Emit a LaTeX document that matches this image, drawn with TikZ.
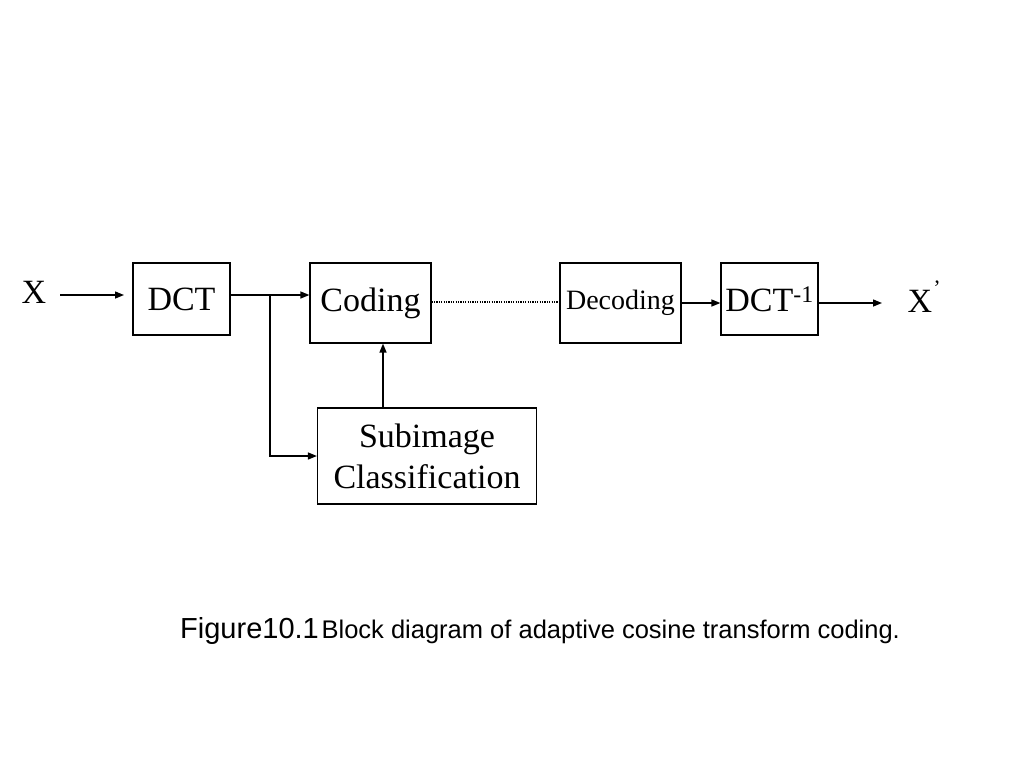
\documentclass[tikz,border=0pt]{standalone}
\usepackage{fontspec}
\setmainfont{Liberation Serif}
\newfontfamily\capfont{Liberation Sans}
\usetikzlibrary{arrows.meta}
\begin{document}
\begin{tikzpicture}[x=1pt,y=-1pt,
  blk/.style={draw, line width=1.2pt, inner sep=0pt, align=center, font=\fontsize{34}{41}\selectfont},
  arr/.style={line width=1.4pt, -{Triangle[length=9pt,width=7pt]}},
  lbl/.style={inner sep=0pt, font=\fontsize{34}{41}\selectfont}]
\useasboundingbox[fill=white] (0,0) rectangle (1024,768);
\node[blk, minimum width=97pt, minimum height=72pt] (dct) at (181.5,299) {DCT};
\node[blk, minimum width=121pt, minimum height=80pt] (coding) at (370.5,303) {Coding};
\node[blk, minimum width=121pt, minimum height=80pt, font=\fontsize{28}{32}\selectfont] (decoding) at (620.5,303) {Decoding};
\node[blk, minimum width=97pt, minimum height=72pt] (idct) at (769.5,299) {DCT\textsuperscript{-1}};
\node[blk, minimum width=219pt, minimum height=96pt] (sub) at (427,456) {Subimage\\Classification};
\node[lbl] (x) at (34,292) {X};
\node[lbl] (xp) at (920,301) {X};
\node[inner sep=0pt, font=\fontsize{22}{24}\selectfont] (prime) at (937,288) {’};
\coordinate (xin) at (60,295);
\coordinate (xend) at (124,295);
\coordinate (xout) at (882,303);
\coordinate (br) at (270,295);
% connectors
\draw[arr] (xin) -- (xend);
\draw[arr] (dct.east |- br) -- (br -| coding.west);
\draw[arr] (br) |- (sub.west |- 0,456);
\draw[arr] (sub.north -| 383,0) -- (coding.south -| 383,0);
\draw[line width=1.2pt, dash pattern=on 1.2pt off 1.2pt] (coding.east |- 0,302) -- (decoding.west |- 0,302);
\draw[arr] (decoding.east |- 0,303) -- (idct.west |- 0,303);
\draw[arr] (idct.east |- xout) -- (xout);
% caption
\node[anchor=base west, inner sep=0pt, font=\capfont] (cap) at (180,638)
  {{\fontsize{29}{31}\selectfont Figure10.1} {\fontsize{25.5}{28}\selectfont Block diagram of adaptive cosine transform coding.}};
\end{tikzpicture}
\end{document}
